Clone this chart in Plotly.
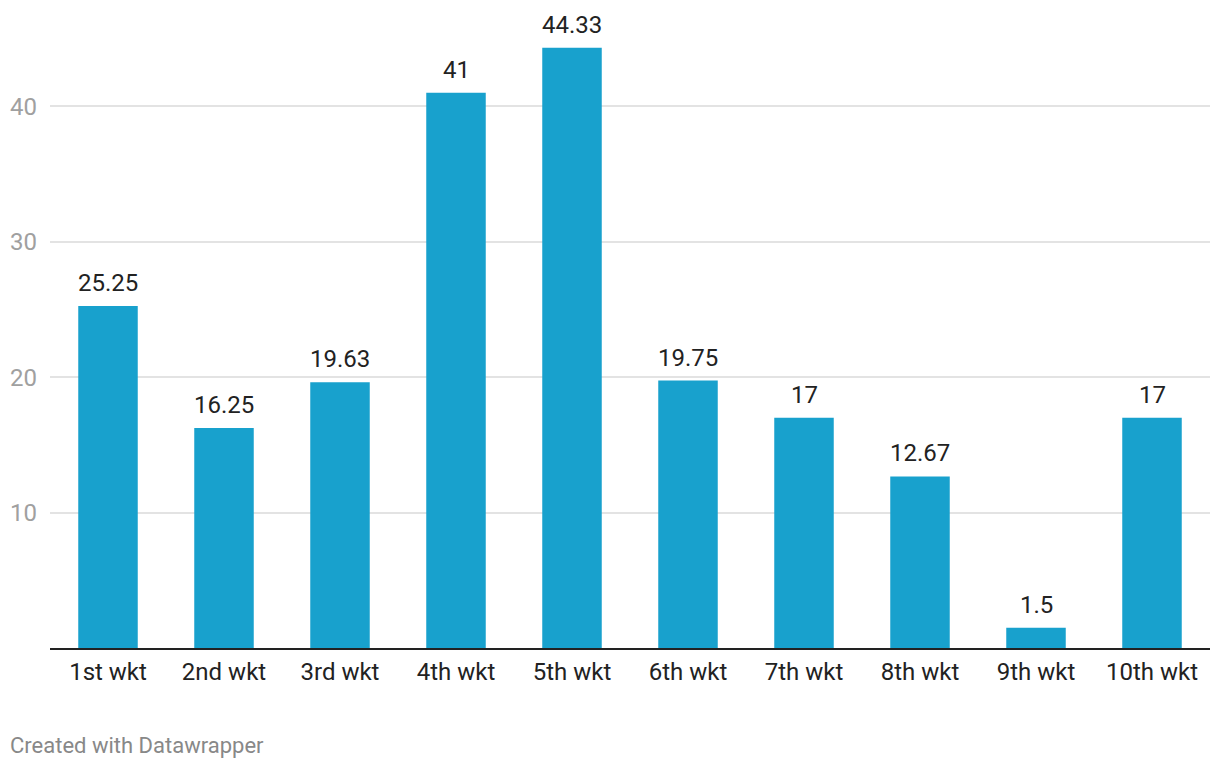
import plotly.graph_objects as go

categories = ["1st wkt", "2nd wkt", "3rd wkt", "4th wkt", "5th wkt",
              "6th wkt", "7th wkt", "8th wkt", "9th wkt", "10th wkt"]
values = [25.25, 16.25, 19.63, 41, 44.33, 19.75, 17, 12.67, 1.5, 17]
value_labels = ["25.25", "16.25", "19.63", "41", "44.33", "19.75", "17", "12.67", "1.5", "17"]
y_ticks = [10, 20, 30, 40]

BAR = "#18a1cd"
FONT = "Roboto"

fig = go.Figure()
fig.add_trace(go.Bar(x=categories, y=values, marker_color=BAR,
                     marker_line_width=0, hoverinfo="skip"))

for c, v, t in zip(categories, values, value_labels):
    fig.add_annotation(x=c, y=v, text=t, showarrow=False, xanchor="center",
                       yanchor="bottom", yshift=7,
                       font=dict(family=FONT, size=24, color="#222222"))

fig.add_annotation(xref="paper", yref="paper", x=0, y=0, xshift=-42.5, yshift=-97,
                   xanchor="left", yanchor="middle", showarrow=False,
                   text="Created with Datawrapper",
                   font=dict(family=FONT, size=22, color="#888888"))

fig.update_layout(
    width=1212, height=760,
    margin=dict(l=41.5, r=10, t=32, b=120, autoexpand=False),
    plot_bgcolor="white", paper_bgcolor="white",
    bargap=0.487, showlegend=False,
    font=dict(family=FONT),
)
fig.update_xaxes(type="category", range=[-0.5, 9.5], showgrid=False, automargin=False,
                 showline=True, linecolor="#222222", linewidth=2,
                 ticks="", tickfont=dict(family=FONT, size=24, color="#222222"),
                 ticklabelstandoff=1)
fig.update_yaxes(range=[0, 44.9], tickvals=y_ticks, showgrid=True, automargin=False,
                 gridcolor="#e3e3e3", gridwidth=2, zeroline=False, showline=False,
                 ticks="", tickfont=dict(family=FONT, size=24, color="#a0a0a0"),
                 ticklabelstandoff=12)

fig.write_html("out.html")
